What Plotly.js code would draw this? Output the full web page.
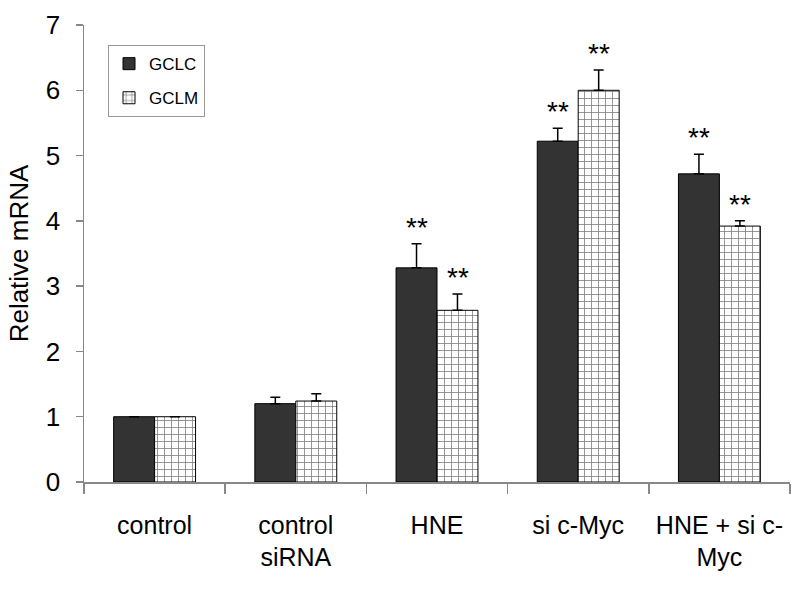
<!DOCTYPE html>
<html><head><meta charset="utf-8">
<script src="https://cdn.plot.ly/plotly-3.0.1.min.js"></script>
<style>body{margin:0;background:#fff}#chart{width:800px;height:589px}</style>
</head><body><div id="chart"></div>
<script>
var categories = ["control", "control<br>siRNA", "HNE", "si c-Myc", "HNE + si c-<br>Myc"];
var gclc = [1.0, 1.2, 3.28, 5.22, 4.72];
var gclcErr = [0.0, 0.1, 0.37, 0.2, 0.3];
var gclm = [1.0, 1.24, 2.63, 6.0, 3.92];
var gclmErr = [0.0, 0.11, 0.25, 0.31, 0.08];
var gclcSig = ["", "", "**", "**", "**"];
var gclmSig = ["", "", "**", "**", "**"];

var font = "Liberation Sans, Arial, sans-serif";
var zeros = categories.map(function(){return 0;});

var traces = [
  {type:"bar", name:"GCLC", legendgroup:"a", x:categories, y:gclc,
   marker:{color:"#333333", line:{color:"#000", width:1}},
   error_y:{type:"data", array:gclcErr, arrayminus:zeros, symmetric:false, color:"#000", thickness:1.5, width:5}},
  {type:"bar", name:"GCLM", legendgroup:"b", x:categories, y:gclm,
   marker:{color:"#ffffff", line:{color:"#000", width:1},
     pattern:{shape:"+", fgcolor:"#000", bgcolor:"#fff", size:7, solidity:0.22, fillmode:"overlay"}},
   error_y:{type:"data", array:gclmErr, arrayminus:zeros, symmetric:false, color:"#000", thickness:1.5, width:5}}
];

var ann = [];
categories.forEach(function(c, i){
  if (gclcSig[i]) ann.push({x:c, y:gclc[i]+gclcErr[i], xref:"x", yref:"y", text:gclcSig[i], showarrow:false,
    xshift:-20.5, yanchor:"bottom", yshift:-1, font:{family:font, size:28, color:"#000"}});
  if (gclmSig[i]) ann.push({x:c, y:gclm[i]+gclmErr[i], xref:"x", yref:"y", text:gclmSig[i], showarrow:false,
    xshift:20.5, yanchor:"bottom", yshift:-1, font:{family:font, size:28, color:"#000"}});
});

var layout = {
  width:800, height:589,
  margin:{l:84, r:10, t:25, b:107},
  paper_bgcolor:"#fff", plot_bgcolor:"#fff",
  font:{family:font, color:"#000"},
  barmode:"group", bargap:0.42, bargroupgap:0,
  showlegend:true,
  legend:{x:0.034, y:0.956, xanchor:"left", yanchor:"top", bgcolor:"#fff",
    bordercolor:"#999", borderwidth:1, font:{family:font, size:17, color:"#000"},
    itemwidth:30, traceorder:"grouped", tracegroupgap:9},
  xaxis:{showgrid:false, showline:true, linecolor:"#888", linewidth:1.5,
    ticks:"outside", tickson:"boundaries", ticklen:10, tickcolor:"#888", tickwidth:1.5,
    tickfont:{family:font, size:25, color:"#000"}, ticklabelstandoff:20},
  yaxis:{range:[0,7], dtick:1, showgrid:false, zeroline:false, showline:true, linecolor:"#888", linewidth:1.5,
    ticks:"outside", ticklen:7, tickcolor:"#888", tickwidth:1.5,
    tickfont:{family:font, size:26, color:"#000"}, ticklabelstandoff:10,
    title:{text:"Relative mRNA", font:{family:font, size:26, color:"#000"}, standoff:9}},
  annotations:ann
};
Plotly.newPlot("chart", traces, layout, {displayModeBar:false, staticPlot:true});
</script></body></html>
